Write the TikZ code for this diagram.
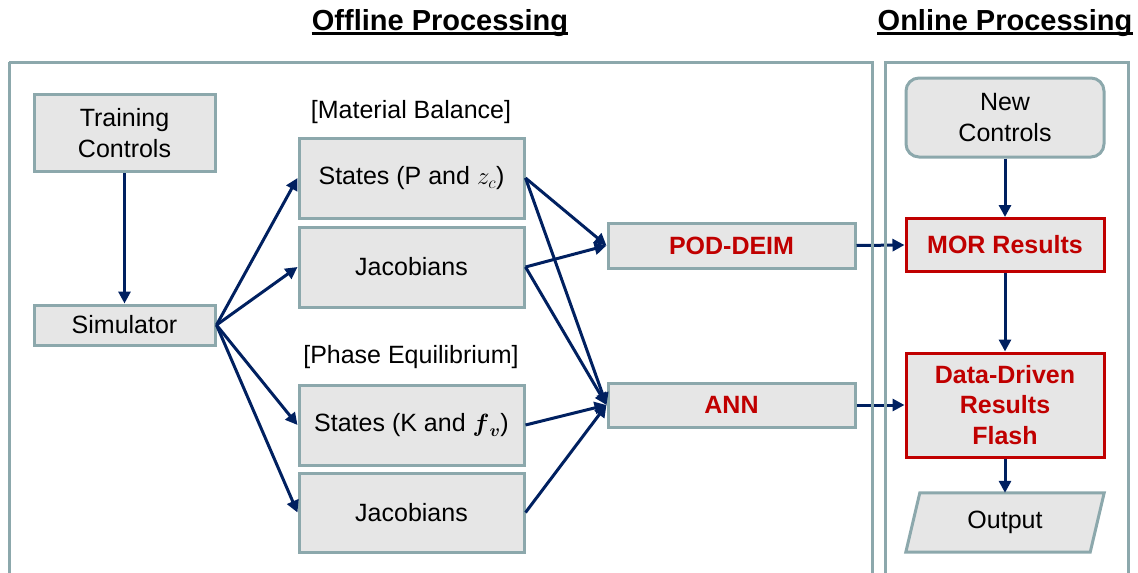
\documentclass[tikz,border=0pt]{standalone}
\usepackage{fontspec}
\setmainfont{Liberation Sans}
\usepackage{amsmath}
\usetikzlibrary{arrows.meta,backgrounds}
\definecolor{frame}{RGB}{140,168,172}
\definecolor{boxfill}{RGB}{230,230,230}
\definecolor{navy}{RGB}{0,32,96}
\definecolor{hired}{RGB}{192,0,0}
\begin{document}
\begin{tikzpicture}[x=1pt,y=-1pt,
  box/.style={draw=frame, fill=boxfill, line width=3pt, inner sep=0pt,
    align=center, text=black, font=\fontsize{25}{31}\selectfont},
  result/.style={box, draw=hired, text=hired, font=\fontsize{25}{30.5}\selectfont\bfseries},
  link/.style={draw=navy, line width=3pt, -{Triangle[length=12pt,width=12pt]}},
  panel/.style={draw=frame, line width=3pt},
  heading/.style={font=\fontsize{29}{34}\selectfont\bfseries, anchor=base, inner sep=0pt},
  tag/.style={font=\fontsize{25}{31}\selectfont, anchor=base, inner sep=0pt}]
\useasboundingbox (0,0) rectangle (1138,573);
\clip (0,0) rectangle (1138,573);

% headings
\node[heading] (offt) at (440,30) {Offline Processing};
\node[heading] (onlt) at (1005,30) {Online Processing};
\draw[line width=2.5pt] ([yshift=-3.5pt]offt.base west) -- ([yshift=-3.5pt]offt.base east);
\draw[line width=2.5pt] ([yshift=-3.5pt]onlt.base west) -- ([yshift=-3.5pt]onlt.base east);

% offline column
\node[box, minimum width=181pt, minimum height=77pt] (train) at (124.5,133) {Training\\Controls};
\node[box, minimum width=181pt, minimum height=40pt] (sim) at (124.5,325) {Simulator};

\node[tag] (mbt) at (411,118) {[Material Balance]};
\node[box, minimum width=225pt, minimum height=80pt] (smb) at (411.5,178) {States (P and $z_c$)};
\node[box, minimum width=225pt, minimum height=80pt] (jmb) at (411.5,267) {Jacobians};

\node[tag] (pet) at (411,363) {[Phase Equilibrium]};
\node[box, minimum width=225pt, minimum height=80pt] (spe) at (411.5,425) {States (K and $\boldsymbol{f}_{\boldsymbol{v}}$)};
\node[box, minimum width=225pt, minimum height=79pt] (jpe) at (411.5,512.5) {Jacobians};

\node[result, draw=frame, minimum width=247pt, minimum height=45pt] (pod) at (731.5,245.5) {POD-DEIM};
\node[result, draw=frame, minimum width=247pt, minimum height=44pt] (ann) at (731.5,405) {ANN};

% online column
\node[box, rounded corners=13pt, minimum width=198pt, minimum height=79pt] (newc) at (1005,117.5) {New\\Controls};
\node[result, minimum width=198pt, minimum height=53pt] (mor) at (1005,245) {MOR Results};
\node[result, minimum width=198pt, minimum height=104pt] (data) at (1005,405) {Data-Driven\\Results\\Flash};
\node[inner sep=0pt, minimum width=198pt, minimum height=59pt, font=\fontsize{25}{31}\selectfont] (out) at (1005,522.5) {Output};
\begin{scope}[on background layer]
  \draw[frame, fill=boxfill, line width=3pt, line join=miter]
    ([xshift=14pt]out.north west) -- (out.north east)
    -- ([xshift=-14pt]out.south east) -- (out.south west) -- cycle;
\end{scope}

% connectors
\draw[link] (train.south) -- (sim.north);
\draw[link] (sim.east) -- (smb.west);
\draw[link] (sim.east) -- (jmb.west);
\draw[link] (sim.east) -- (spe.west);
\draw[link] (sim.east) -- (jpe.west);
\draw[link] (smb.east) -- (pod.west);
\draw[link] (jmb.east) -- (pod.west);
\draw[link] (smb.east) -- (ann.west);
\draw[link] (jmb.east) -- (ann.west);
\draw[link] (spe.east) -- (ann.west);
\draw[link] (jpe.east) -- (ann.west);
\draw[link] (pod.east) -- (mor.west);
\draw[link] (ann.east) -- (data.west);
\draw[link] (newc.south) -- (mor.north);
\draw[link] (mor.south) -- (data.north);
\draw[link] (data.south) -- (out.north);

% processing panels
\draw[panel] (9,62) -- (872,62) -- (872,590);
\draw[panel] (9,590) -- (9,62);
\draw[panel] (885,590) -- (885,62) -- (1128,62) -- (1128,590);
\end{tikzpicture}
\end{document}
